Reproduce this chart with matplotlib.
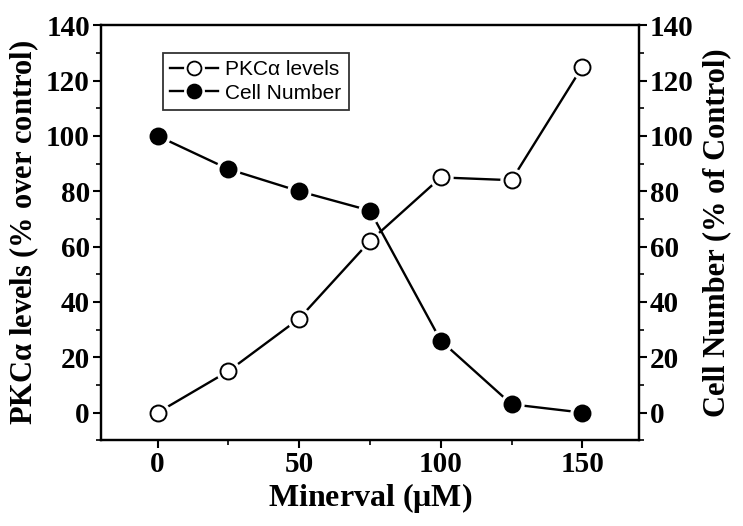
import numpy as np
import matplotlib.pyplot as plt
from matplotlib.ticker import MultipleLocator
from matplotlib.lines import Line2D

# data
minerval = [0, 25, 50, 75, 100, 125, 150]
pkc_levels = [0, 15, 34, 62, 85, 84, 125]
cell_number = [100, 88, 80, 73, 26, 3, 0]

serif = "Liberation Serif"

fig = plt.figure(figsize=(7.43, 5.26), dpi=100)
ax = fig.add_axes([0.136, 0.163, 0.724, 0.789])

# lines first, then a white halo so the lines stop short of the markers
for yv, fc in [(pkc_levels, "white"), (cell_number, "black")]:
    ax.plot(minerval, yv, "-", color="black", lw=1.7, zorder=1)
    ax.plot(minerval, yv, "o", ms=16.5, mfc="white", mec="white", zorder=2)
    ax.plot(minerval, yv, "o", ms=11.5, mfc=fc, mec="black", mew=1.4, zorder=3)

ax.set_xlim(-20, 170)
ax.set_ylim(-10, 140)
ax.xaxis.set_major_locator(MultipleLocator(50))
ax.xaxis.set_minor_locator(MultipleLocator(25))
ax.yaxis.set_major_locator(MultipleLocator(20))
ax.yaxis.set_minor_locator(MultipleLocator(10))

ax2 = ax.twinx()
ax2.set_ylim(-10, 140)
ax2.yaxis.set_major_locator(MultipleLocator(20))
ax2.yaxis.set_minor_locator(MultipleLocator(10))

for a in (ax, ax2):
    for s in a.spines.values():
        s.set_linewidth(1.6)
    a.tick_params(which="major", direction="out", length=6, width=1.5,
                  labelsize=21, pad=2)
    a.tick_params(which="minor", direction="out", length=3.5, width=1.2)
    for lab in a.get_xticklabels() + a.get_yticklabels():
        lab.set_fontfamily(serif)
        lab.set_fontweight("bold")

ax.set_xlabel(r"Minerval ($\mathregular{\mu}$M)", fontsize=23,
              fontfamily=serif, fontweight="bold", labelpad=2)
ax.set_ylabel(r"PKC$\mathregular{\alpha}$ levels (% over control)", fontsize=22,
              fontfamily=serif, fontweight="bold", labelpad=4)
ax2.set_ylabel("Cell Number (% of Control)", fontsize=22,
               fontfamily=serif, fontweight="bold", labelpad=6)

def handle(fc):
    ln = Line2D([], [], color="black", lw=1.7)
    halo = Line2D([], [], ls="none", marker="o", ms=14, mfc="white", mec="white")
    mk = Line2D([], [], ls="none", marker="o", ms=10, mfc=fc, mec="black", mew=1.3)
    return (ln, halo, mk)

leg = ax.legend([handle("white"), handle("black")],
                ["PKC\u03b1 levels", "Cell Number"],
                loc="upper left", bbox_to_anchor=(0.115, 0.933),
                frameon=True, fancybox=False, edgecolor="black",
                handlelength=2.3, borderpad=0.35, labelspacing=0.2,
                handletextpad=0.35, borderaxespad=0,
                prop={"family": "Liberation Sans", "size": 15})
leg.get_frame().set_linewidth(1.3)

fig.savefig("out.png", dpi=100)
